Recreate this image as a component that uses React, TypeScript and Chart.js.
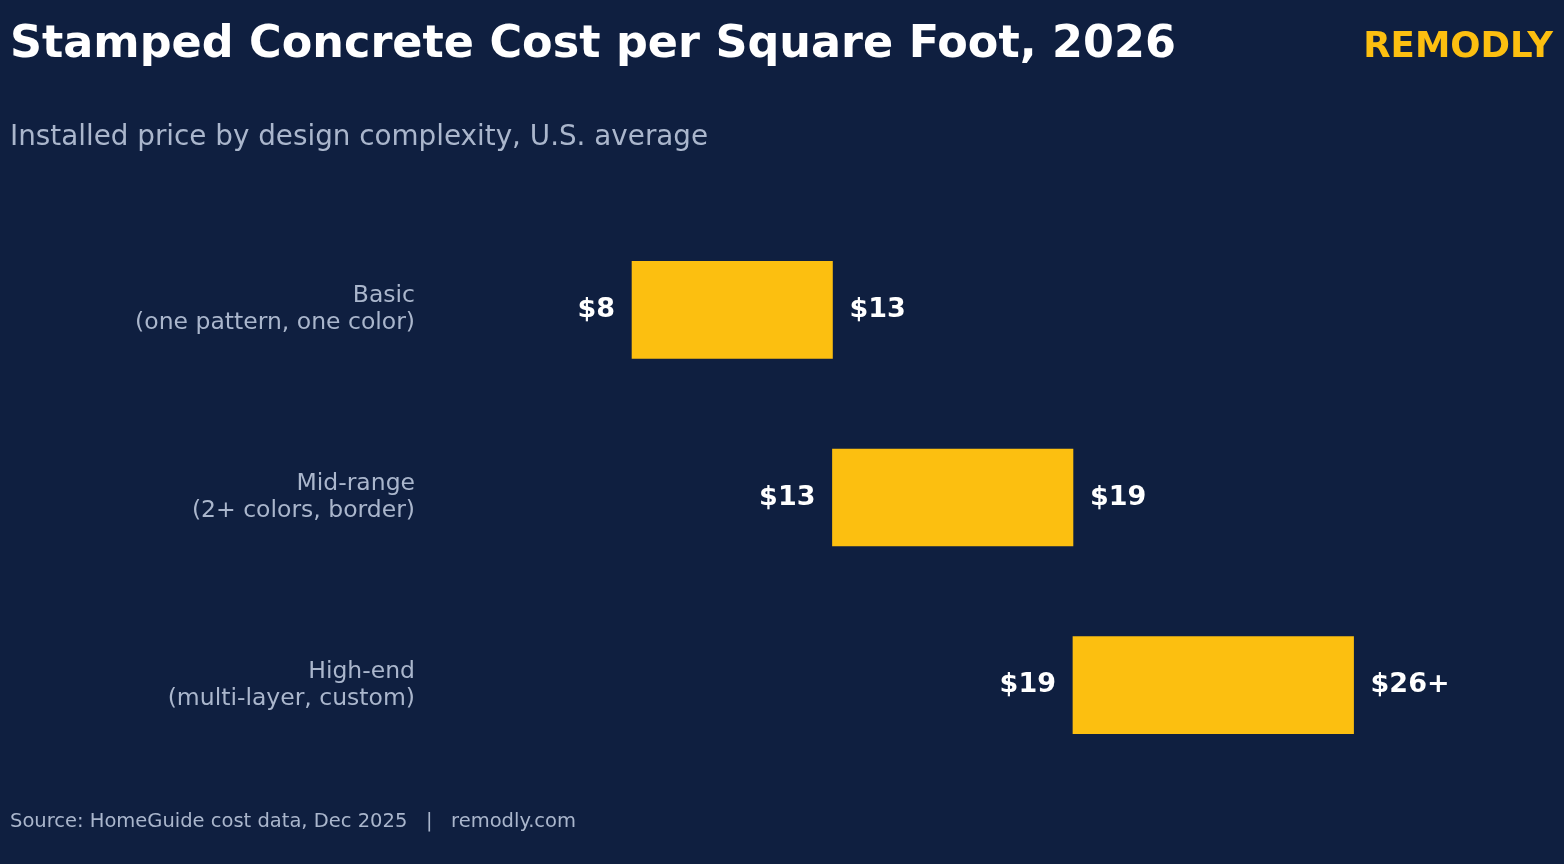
import React, { useEffect, useRef } from "react";
import { Chart, registerables } from "chart.js";

Chart.register(...registerables);

const categories: string[][] = [
  ["Basic", "(one pattern, one color)"],
  ["Mid-range", "(2+ colors, border)"],
  ["High-end", "(multi-layer, custom)"],
];
const lowValues: number[] = [8, 13, 19];
const highValues: number[] = [13, 19, 26];
const lowLabels: string[] = ["$8", "$13", "$19"];
const highLabels: string[] = ["$13", "$19", "$26+"];

const TITLE = "Stamped Concrete Cost per Square Foot, 2026";
const SUBTITLE = "Installed price by design complexity, U.S. average";
const BRAND = "REMODLY";
const FOOTER = "Source: HomeGuide cost data, Dec 2025   |   remodly.com";

const BG = "#0F1F40";
const BAR = "#FCBF10";
const MUTED = "#AAB6CC";
const FONT = "'DejaVu Sans', sans-serif";

const valueLabelPlugin = {
  id: "valueLabels",
  afterDatasetsDraw(chart: any) {
    const ctx = chart.ctx;
    const meta = chart.getDatasetMeta(0);
    ctx.save();
    ctx.font = `bold 27px ${FONT}`;
    ctx.fillStyle = "#FFFFFF";
    ctx.textBaseline = "middle";
    meta.data.forEach((el: any, i: number) => {
      const left = Math.min(el.x, el.base);
      const right = Math.max(el.x, el.base);
      ctx.textAlign = "right";
      ctx.fillText(lowLabels[i], left - 17, el.y);
      ctx.textAlign = "left";
      ctx.fillText(highLabels[i], right + 17, el.y);
    });
    ctx.restore();
  },
};

export default function App() {
  const canvasRef = useRef<HTMLCanvasElement>(null);

  useEffect(() => {
    if (!canvasRef.current) return;
    const chart = new Chart(canvasRef.current, {
      type: "bar",
      data: {
        labels: categories as any,
        datasets: [
          {
            data: lowValues.map((v, i) => [v, highValues[i]]) as any,
            backgroundColor: BAR,
            borderWidth: 0,
            barThickness: 97,
          },
        ],
      },
      options: {
        indexAxis: "y",
        responsive: false,
        animation: false,
        devicePixelRatio: 1,
        layout: { padding: { top: 216, bottom: 85, left: 0, right: 10 } },
        plugins: {
          legend: { display: false },
          tooltip: { enabled: false },
          title: { display: false },
        },
        scales: {
          x: {
            display: false,
            min: 2.96,
            max: 31,
          },
          y: {
            grid: { display: false, drawTicks: false },
            border: { display: false },
            ticks: {
              color: MUTED,
              padding: 15,
              font: { family: FONT, size: 23.5, lineHeight: 1.15 },
            },
            afterFit: (scale: any) => {
              scale.width = 430;
            },
          },
        },
      },
      plugins: [valueLabelPlugin],
    });
    return () => chart.destroy();
  }, []);

  const base: React.CSSProperties = {
    position: "absolute",
    fontFamily: FONT,
    lineHeight: 1,
    whiteSpace: "pre",
    margin: 0,
  };

  return (
    <div
      style={{
        position: "fixed",
        left: 0,
        top: 0,
        width: 1564,
        height: 864,
        background: BG,
        overflow: "hidden",
      }}
    >
      <canvas
        ref={canvasRef}
        width={1564}
        height={864}
        style={{ position: "absolute", left: 0, top: 0, width: 1564, height: 864 }}
      />
      <div style={{ ...base, left: 10, top: 19.5, fontSize: 44.5, fontWeight: "bold", color: "#FFFFFF" }}>
        {TITLE}
      </div>
      <div style={{ ...base, right: 11, top: 27, fontSize: 35.6, fontWeight: "bold", color: BAR }}>
        {BRAND}
      </div>
      <div style={{ ...base, left: 10, top: 121.5, fontSize: 27.8, color: MUTED }}>{SUBTITLE}</div>
      <div style={{ ...base, left: 10, top: 811, fontSize: 19.5, color: MUTED }}>{FOOTER}</div>
    </div>
  );
}
